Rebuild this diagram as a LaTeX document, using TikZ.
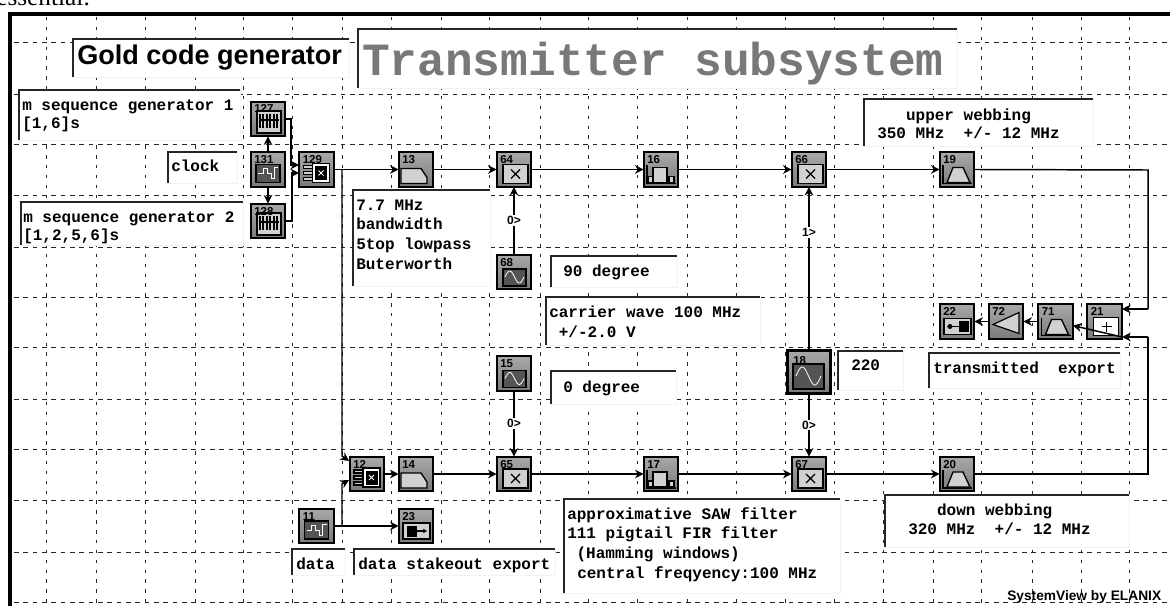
\documentclass[tikz,border=0pt]{standalone}
\usepackage{fontspec}
\setmainfont{Liberation Serif}
\newfontfamily\arialf{Liberation Sans}
\newfontfamily\monof{Liberation Mono}
\usetikzlibrary{arrows.meta}
\definecolor{blocktop}{gray}{0.66}
\definecolor{blockbot}{gray}{0.48}
\definecolor{insetlight}{gray}{0.82}
\definecolor{insetdark}{gray}{0.33}
\definecolor{boxedge}{gray}{0.95}
\definecolor{titlegray}{gray}{0.47}
\tikzset{
  x=0.75pt,y=-0.75pt,
  gridh/.style={line width=0.75pt,dash pattern=on 3.4pt off 3.6pt,black!85},
  gridv/.style={line width=0.75pt,dash pattern=on 2.6pt off 4.8pt,black!85},
  frameline/.style={line width=2.3pt,black},
  blockbox/.style={draw=black,line width=1.3pt,top color=blocktop,bottom color=blockbot,minimum size=26pt,inner sep=0pt,outer sep=0pt},
  bigblock/.style={blockbox,line width=1.9pt,minimum size=32.5pt},
  numtxt/.style={font=\arialf\bfseries\fontsize{8.6}{9}\selectfont,inner sep=0pt,anchor=base west,text=black},
  conn/.style={line width=1.1pt,black,-{Stealth[length=6.5pt,width=6.5pt]}},
  wire/.style={line width=1.1pt,black},
  boxbg/.style={fill=white,draw=boxedge,line width=0.5pt},
  boxrule/.style={line width=1.4pt,black!85,line cap=butt},
  inset/.style={draw=black,line width=0.9pt,fill=insetlight},
  darkinset/.style={draw=black,line width=1.1pt,fill=insetdark},
  icon/.style={draw=black,line width=0.8pt},
  whiteicon/.style={draw=white,line width=0.6pt},
  tlabel/.style={inner sep=0pt,anchor=north west,align=left,text=black},
  portlabel/.style={font=\arialf\bfseries\fontsize{9}{9}\selectfont,fill=white,inner sep=0.8pt},
}
% id, x, y, icon
\newcommand{\blk}[4]{%
  \node[blockbox] (b#1) at (#2,#3) {};
  \begin{scope}[shift={(#2,#3)}] #4 \end{scope}
  \node[numtxt] (n#1) at (#2-14,#3-6) {#1};
}
% sunken text panel
\newcommand{\panel}[4]{%
  \path[boxbg] (#1,#2) rectangle (#3,#4);
  \draw[boxrule] (#1,#4) -- (#1,#2) -- (#3,#2);
}
\newcommand{\tb}[5][14.6]{%
  \node[tlabel,font=\monof\bfseries\fontsize{12}{#1}\selectfont] (#2) at (#3,#4-12) {\rule{0pt}{9pt}#5};
}
\newcommand{\icmul}{\draw[inset] (-11,-5) rectangle (14,14); \draw[icon,line width=1pt] (-3,0) -- (6,9) (6,0) -- (-3,9);}
\newcommand{\iclow}{\draw[inset,line width=1pt] (-15,-1) -- (5,-1) -- (11,8) -- (11,14) -- (-15,14) -- cycle;}
\newcommand{\icband}{\draw[icon,line width=1pt] (-14,-4) -- (-14,14) -- (15,14); \path[fill=insetlight,draw=black,line width=1pt] (-10,13) -- (-4,-2) -- (6,-2) -- (13,13) -- cycle;}
\newcommand{\icfir}{\draw[icon,line width=1pt] (-14,-4) -- (-14,14) -- (15,14); \draw[inset,fill=insetlight] (-8,-2) rectangle (6,13); \draw[inset] (-13,7) rectangle (-8,13); \draw[inset] (8,7) rectangle (13,13);}
\newcommand{\icpn}{\draw[inset,line width=1.1pt] (-11,-8) rectangle (13,14); \draw[icon,line width=1pt] (-9,1) -- (11,1); \foreach \q in {-8,-5,-1,2,6,9}{\draw[icon,line width=1.1pt] (\q,-5) -- (\q,9);} }
\newcommand{\icsq}{\draw[darkinset] (-12,-5) rectangle (12,13); \draw[whiteicon] (-10,4) -- (-5,4) -- (-5,-1) -- (-1,-1) -- (-1,4) -- (3,4) -- (3,9) -- (6,9) -- (6,-2) -- (10,-2);}
\newcommand{\iclogic}{\draw[icon,fill=insetlight] (-13,-4) rectangle (-4,-1) (-13,2) rectangle (-4,5) (-13,8) rectangle (-4,11); \draw[inset,fill=white] (-4,-6) rectangle (13,13); \draw[fill=black] (-1,-3) rectangle (10,10); \draw[white,line width=0.6pt] (2,1) -- (7,6) (7,1) -- (2,6);}
\newcommand{\icsine}{\draw[darkinset] (-11,-3) rectangle (12,14); \draw[whiteicon] plot[domain=-9:10,samples=24,smooth] (\x,{5-6*sin(18.9*(\x+9))});}
\newcommand{\icsink}{\draw[inset] (-13,-3) rectangle (14,13); \draw[fill=black] (-9,0) rectangle (0,10); \draw[icon,line width=1pt,-{Stealth[length=3pt,width=3.5pt]}] (0,5) -- (11,5);}
\newcommand{\icsinkrev}{\draw[inset] (-13,-3) rectangle (14,13); \draw[fill=black] (2,0) rectangle (11,10); \draw[icon,line width=1pt] (-10,5) -- (2,5); \fill (-7,5) circle (2.5);}
\newcommand{\icgain}{\draw[inset] (-13,3) -- (13,-9) -- (13,12) -- cycle;}
\newcommand{\icadd}{\draw[inset,fill=white] (-11,-4) rectangle (14,14); \draw[icon,line width=1pt] (-3,5) -- (7,5) (2,0) -- (2,10);}
\begin{document}
\begin{tikzpicture}
\useasboundingbox (0,0) rectangle (1170,606);
\path[fill=white] (0,0) rectangle (1170,606);
\begin{scope}
\clip (0,0) rectangle (1170,606);
\node[font=\fontsize{19}{19}\selectfont,inner sep=0pt,anchor=base west] (stray) at (-4,6) {essential.};
\end{scope}
% grid
\foreach \gy in {42.5,94.5,145,195.5,247,297,347,399,449.5,500,552,602}{\draw[gridh] (14,\gy) -- (1170,\gy);}
\foreach \gx in {46.7,96.7,145,195,243.7,292,342,391,441.3,489.7,540,588.3,637,687,736,785.3,834.3,883,933,981.7,1032,1081,1129}{\draw[gridv] (\gx,17) -- (\gx,606);}
% frame
\draw[frameline] (10,606) -- (10,14) -- (1170,14);
% panels
\panel{73}{39}{349}{77}
\panel{358}{29}{957}{88}
\panel{19}{90}{240}{140}
\panel{168}{152}{237}{183}
\panel{21}{202}{243}{245}
\panel{353}{190}{490}{286}
\panel{551}{256}{677}{287}
\panel{546}{297}{760}{345}
\panel{551}{371}{676}{404}
\panel{838}{351}{903}{390}
\panel{929}{353}{1120}{388}
\panel{864}{99}{1093}{146}
\panel{885}{495}{1129}{547}
\panel{564}{499}{840}{593}
\panel{292}{549}{345}{575}
\panel{354}{549}{555}{575}
% panel text
\node[font=\arialf\bfseries\fontsize{20.3}{22}\selectfont,inner sep=0pt,anchor=base west] (tgold) at (77,65) {Gold code generator};
\node[font=\monof\bfseries\fontsize{34.6}{36}\selectfont,inner sep=0pt,anchor=base west,text=titlegray] (ttrans) at (362,76) {Transmitter subsystem};
\tb[13.5]{tm1}{22}{110}{m sequence generator 1\\{}[1,6]s}
\tb{tclock}{171}{171}{clock}
\tb[13.5]{tm2}{23}{222}{m sequence generator 2\\{}[1,2,5,6]s}
\tb[14.7]{tfilt}{356}{210}{7.7 MHz\\bandwidth\\5top lowpass\\Buterworth}
\tb{t90}{563}{276.5}{90 degree}
\tb[15]{tcar}{549}{317}{carrier wave 100 MHz\\\hspace*{7.2pt}+/-2.0 V}
\tb{t0}{563}{392}{0 degree}
\tb{t220}{851}{370}{220}
\tb{ttx}{933}{373}{transmitted\ \ export}
\tb[13.5]{tup}{877}{120}{\hspace*{21.6pt}upper webbing\\350 MHz\ \ +/- 12 MHz}
\tb[14.2]{tdn}{908}{515}{\hspace*{21.6pt}down webbing\\320 MHz\ \ +/- 12 MHz}
\tb[14.7]{tsaw}{567}{519}{approximative SAW filter\\111 pigtail FIR filter\\\hspace*{7pt}(Hamming windows)\\\hspace*{7.5pt}central freqyency:100 MHz}
\tb{tdata}{296}{569}{data}
\tb{tstake}{358}{569}{data stakeout export}
\node[font=\arialf\bfseries\fontsize{10.3}{11}\selectfont,inner sep=0pt,anchor=base west] (tsv) at (1007,600) {SystemView by ELANIX};
% blocks
\blk{127}{268}{119}{\icpn}
\blk{131}{268}{169.5}{\icsq}
\blk{128}{268}{221}{\icpn}
\blk{129}{316.5}{169.5}{\iclogic}
\blk{13}{416}{169.5}{\iclow}
\blk{64}{514}{169.5}{\icmul}
\blk{16}{661}{169.5}{\icfir}
\blk{66}{809}{169.5}{\icmul}
\blk{19}{957}{169.5}{\icband}
\blk{68}{514}{272}{\icsine}
\blk{15}{514}{373.5}{\icsine}
\blk{65}{514}{474}{\icmul}
\blk{12}{367}{474}{\iclogic}
\blk{14}{416}{474}{\iclow}
\blk{17}{661}{474}{\icfir}
\blk{67}{809}{474}{\icmul}
\blk{20}{957}{474}{\icband}
\blk{11}{316.5}{526}{\icsq}
\blk{23}{416}{526}{\icsink}
\blk{22}{957}{321.5}{\icsinkrev}
\blk{72}{1006}{321.5}{\icgain}
\blk{71}{1055.5}{321.5}{\icband}
\blk{21}{1104.5}{321.5}{\icadd}
\node[bigblock] (b18) at (809,372) {};
\begin{scope}[shift={(809,372)}]
\draw[darkinset,line width=1.6pt] (-16,-8) rectangle (15,17);
\draw[whiteicon] plot[domain=-13:12,samples=28,smooth] (\x,{4-9*sin(14.4*(\x+13))});
\end{scope}
\node[numtxt] (n18) at (793,364) {18};
% junctions
\coordinate (j127) at (291,165);
\coordinate (j128) at (292,173);
\coordinate (jsplit) at (342,170);
\coordinate (jbend) at (342,456);
\coordinate (i12a) at (349,461);
\coordinate (jdata) at (342,526);
\coordinate (jbendb) at (342,484);
\coordinate (i12b) at (349,480);
\coordinate (c19) at (1148,170);
\coordinate (i21a) at (1148,309);
\coordinate (a21) at (1122,309);
\coordinate (c20) at (1148,474);
\coordinate (i21b) at (1148,337);
\coordinate (b21) at (1122,337);
% connectors
\draw[conn] (b131) -- (b127);
\draw[conn] (b131) -- (b128);
\draw[conn] (b127.east) -| (j127) -- (j127-|b129.west);
\draw[conn] (b128.east) -| (j128) -- (j128-|b129.west);
\draw[conn] (b129) -- (b13);
\draw[conn] (b13) -- (b64);
\draw[conn] (b64) -- (b16);
\draw[conn] (b16) -- (b66);
\draw[conn] (b66) -- (b19);
\draw[wire] (b19.east) -- (c19) -- (i21a);
\draw[conn] (i21a) -- (a21);
\draw[conn] (jsplit) -- (jbend) -- (i12a);
\draw[conn] (jdata) -- (jbendb) -- (i12b);
\draw[conn] (b11) -- (b23);
\draw[conn] (b12) -- (b14);
\draw[conn] (b14) -- (b65);
\draw[conn] (b65) -- (b17);
\draw[conn] (b17) -- (b67);
\draw[conn] (b67) -- (b20);
\draw[wire] (b20.east) -- (c20) -- (i21b);
\draw[conn] (i21b) -- (b21);
\draw[conn] (b21) -- (b71);
\draw[conn] (b71) -- (b72);
\draw[conn] (b72) -- (b22);
\draw[conn] (b68) -- node[portlabel] (p68) {0>} (b64);
\draw[conn] (b15) -- node[portlabel] (p15) {0>} (b65);
\draw[conn] (b18) -- node[portlabel,pos=0.72] (p18a) {1>} (b66);
\draw[conn] (b18) -- node[portlabel,pos=0.5] (p18b) {0>} (b67);
\end{tikzpicture}
\end{document}
